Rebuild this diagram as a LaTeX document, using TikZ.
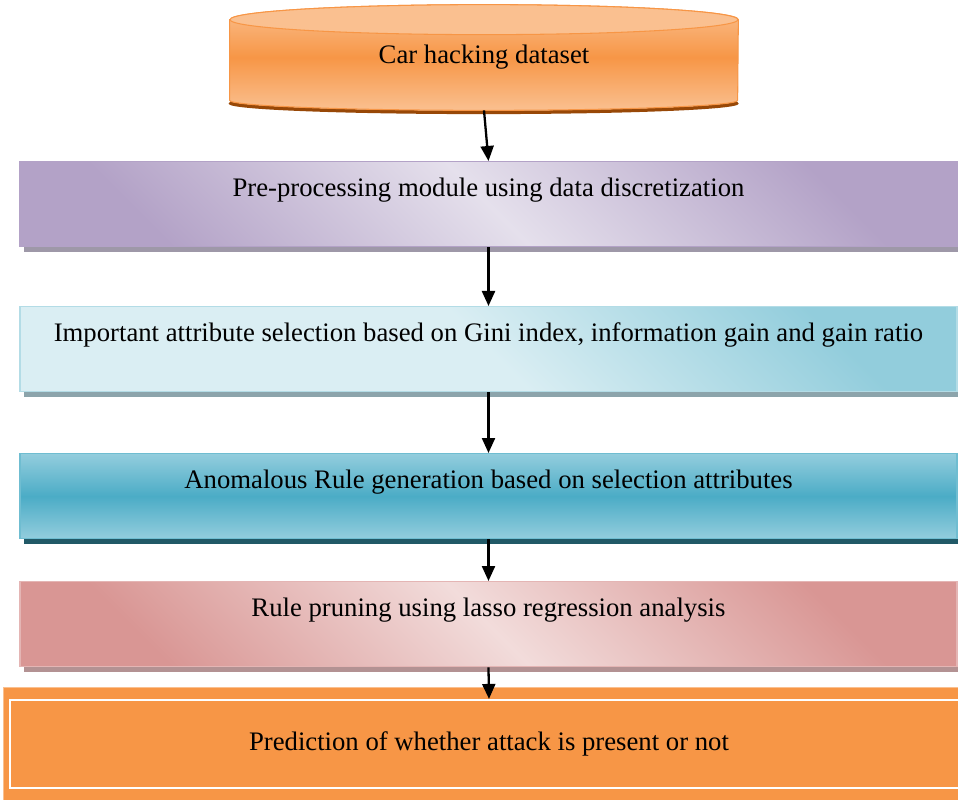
\documentclass[tikz,border=0pt]{standalone}
\usepackage{fontspec}
\setmainfont{Liberation Serif}
\usetikzlibrary{arrows.meta,shadows,backgrounds}

\definecolor{orng}{HTML}{F79646}
\definecolor{olight}{HTML}{FAC090}
\definecolor{obrown}{HTML}{984807}
\definecolor{plight}{HTML}{E5E0EC}
\definecolor{pdark}{HTML}{B3A2C7}
\definecolor{pshade}{HTML}{9E98A8}
\definecolor{blight}{HTML}{DAEEF3}
\definecolor{bdark}{HTML}{92CDDC}
\definecolor{bshade}{HTML}{8CA4AB}
\definecolor{teal}{HTML}{4BACC6}
\definecolor{tlight}{HTML}{93CDDD}
\definecolor{tshade}{HTML}{215967}
\definecolor{rlight}{HTML}{F2DCDB}
\definecolor{rdark}{HTML}{D99694}
\definecolor{rshade}{HTML}{B39293}

\tikzset{
  stage/.style={rectangle, anchor=north, minimum width=18.74cm, inner ysep=0pt,
    text height=0.7cm, text depth=1cm, line width=0.8pt,
    font=\fontsize{15.2}{18}\selectfont},
  boxshadow/.style={drop shadow={shadow xshift=0.08cm, shadow yshift=-0.1cm, fill=#1, opacity=1}},
  arr/.style={-{Triangle[length=0.3cm,width=0.26cm]}, line width=1.3pt},
}

\begin{document}
\begin{tikzpicture}
\useasboundingbox (0,0) rectangle (19.16,15.98);

\node[minimum width=10.16cm, minimum height=2.1cm, inner sep=0pt,
  font=\fontsize{15.2}{18}\selectfont] (data) at (9.68,14.83) {Car hacking dataset};

\node[stage, boxshadow=pshade, draw=pdark, top color=pdark, bottom color=pdark,
  middle color=plight, shading angle=-45] (pre) at (9.77,12.76)
  {Pre-processing module using data discretization};
\node[stage, boxshadow=bshade, draw=bdark!70, top color=bdark, bottom color=blight,
  middle color=blight, shading angle=-45] (attr) at (9.77,9.86)
  {Important attribute selection based on Gini index, information gain and gain ratio};
\node[stage, boxshadow=tshade, draw=teal!80!white, top color=tlight, bottom color=tlight,
  middle color=teal] (rule) at (9.77,6.92)
  {Anomalous Rule generation based on selection attributes};
\node[stage, boxshadow=rshade, draw=rdark!70, top color=rdark, bottom color=rdark,
  middle color=rlight, shading angle=-45] (prune) at (9.77,4.36)
  {Rule pruning using lasso regression analysis};
\node[rectangle, minimum width=19.16cm, minimum height=1.76cm, fill=orng,
  draw=white, line width=1.2pt, font=\fontsize{15.2}{18}\selectfont] (pred) at (9.78,1.1)
  {Prediction of whether attack is present or not};

% cylinder and outer frame
\begin{scope}[on background layer]
\draw[obrown, line width=2pt] ([yshift=0.16cm]data.south west)
  arc[start angle=180, end angle=360, x radius=5.08cm, y radius=0.2cm];
\shadedraw[top color=olight, bottom color=olight, middle color=orng, draw=orng, line width=0.6pt]
  ([yshift=-0.3cm]data.north west) -- ([yshift=0.2cm]data.south west)
  arc[start angle=180, end angle=360, x radius=5.08cm, y radius=0.2cm]
  -- ([yshift=-0.3cm]data.north east)
  arc[start angle=0, end angle=180, x radius=5.08cm, y radius=0.3cm] -- cycle;
\filldraw[fill=olight, draw=orng, line width=0.6pt] ([yshift=-0.3cm]data.north)
  ellipse[x radius=5.08cm, y radius=0.3cm];
\draw[fill=orng, draw=olight] ([shift={(-0.12,-0.22)}]pred.south west)
  rectangle ([shift={(0.12,0.24)}]pred.north east);
\end{scope}

\draw[arr] (data.south) -- (pre.north);
\draw[arr] (pre.south) -- (attr.north);
\draw[arr] (attr.south) -- (rule.north);
\draw[arr] (rule.south) -- (prune.north);
\draw[arr] (prune.south) -- (pred.north);
\end{tikzpicture}
\end{document}
